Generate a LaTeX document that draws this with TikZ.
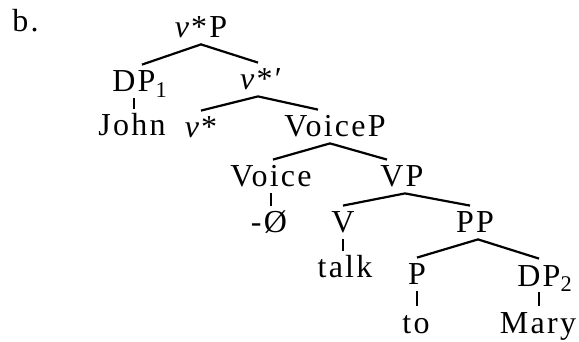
\documentclass[tikz,border=0pt]{standalone}
\usepackage{fontspec}
\setmainfont{Liberation Serif}[LetterSpace=7]

\begin{document}
\begin{tikzpicture}[x=0.5pt,y=-0.5pt,
  lbl/.style={inner xsep=0pt,inner ysep=3pt,anchor=base,text height=10.5pt,text depth=0pt,font=\fontsize{16}{19}\selectfont},
  edge/.style={line width=1.1pt}]
\useasboundingbox (0,0) rectangle (579,342);
% example letter
\node[lbl,anchor=base west] (ex) at (12,32) {b.};
% tree nodes
\node[lbl] (vP)     at (201,38)  {\textit{v}*P};
\node[lbl] (DPa)    at (134,92)  {DP\rlap{\textsubscript{1}}};
\node[lbl] (vbar)   at (261,90)  {\textit{v}*′};
\node[lbl] (john)   at (132,136) {John};
\node[lbl] (vhead)  at (201,138) {\textit{v}*};
\node[lbl] (VoiceP) at (335,137) {VoiceP};
\node[lbl] (Voice)  at (271,187) {Voice};
\node[lbl] (VP)     at (402,187) {VP};
\node[lbl] (zero)   at (269,233) {-Ø};
\node[lbl] (V)      at (343,233) {V};
\node[lbl] (PP)     at (475,233) {PP};
\node[lbl] (talk)   at (345,278) {talk};
\node[lbl] (P)      at (417,285) {P};
\node[lbl] (DPb)    at (539,286) {DP\rlap{\textsubscript{2}}};
\node[lbl] (toword) at (416,333) {to};
\node[lbl] (mary)   at (538,333) {Mary};
% branches
\draw[edge] ([xshift=4pt]DPa.north) -- (vP.south) -- ([xshift=-1.5pt]vbar.north);
\draw[edge] (vhead.north) -- ([xshift=-1.5pt]vbar.south) -- ([xshift=-8.5pt]VoiceP.north);
\draw[edge] ([xshift=1pt]Voice.north) -- ([xshift=-2.5pt]VoiceP.south) -- ([xshift=-7.5pt]VP.north);
\draw[edge] (V.north) -- ([xshift=1.5pt]VP.south) -- ([xshift=-2.5pt]PP.north);
\draw[edge] (P.north) -- ([xshift=1.5pt]PP.south) -- (DPb.north);
% unary lines
\draw[edge] (DPa.south) -- (DPa.south |- john.north);
\draw[edge] (Voice.south) -- (Voice.south |- zero.north);
\draw[edge] (V.south) -- (V.south |- talk.north);
\draw[edge] (P.south) -- (P.south |- toword.north);
\draw[edge] (DPb.south) -- (DPb.south |- mary.north);
\end{tikzpicture}
\end{document}
